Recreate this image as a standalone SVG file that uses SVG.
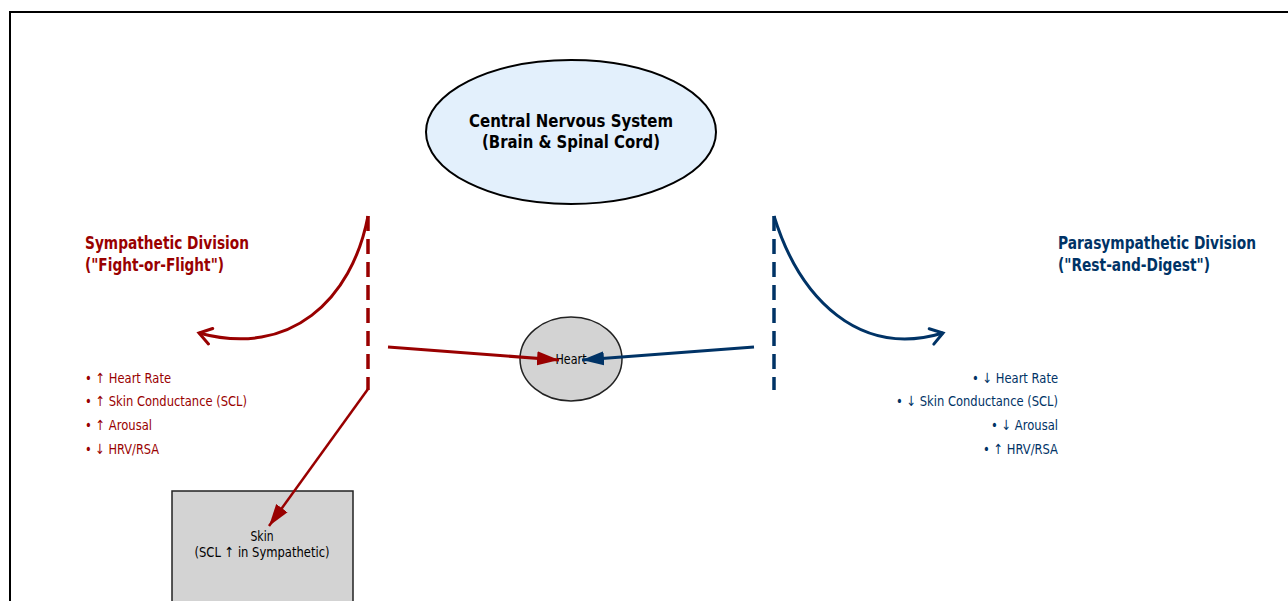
<svg xmlns="http://www.w3.org/2000/svg" width="1288" height="601" viewBox="0 0 1288 601">
<defs>
<style>
text{font-family:"DejaVu Sans","Liberation Sans",sans-serif;}
.title{font-size:17px;font-weight:bold;}
.cns{font-size:18px;font-weight:bold;fill:#000;}
.item{font-size:14px;}
.red{fill:#990000;}
.blue{fill:#003366;}
.lbl{font-size:14px;fill:#000;}
.dashR{stroke:#990000;stroke-width:3.5;stroke-dasharray:15,8;fill:none;}
.dashB{stroke:#003366;stroke-width:3.5;stroke-dasharray:15,8;fill:none;}
</style>
<marker id="openR" markerWidth="18" markerHeight="20" refX="14" refY="10" orient="auto" markerUnits="userSpaceOnUse"><path d="M2,2 L14,10 L2,18" fill="none" stroke="#990000" stroke-width="3" stroke-linecap="round"/></marker>
<marker id="openB" markerWidth="18" markerHeight="20" refX="14" refY="10" orient="auto" markerUnits="userSpaceOnUse"><path d="M2,2 L14,10 L2,18" fill="none" stroke="#003366" stroke-width="3" stroke-linecap="round"/></marker>
<marker id="fillR" markerWidth="24" markerHeight="16" refX="22" refY="8" orient="auto" markerUnits="userSpaceOnUse"><path d="M0,1 L22,8 L0,15 Z" fill="#990000"/></marker>
<marker id="fillB" markerWidth="24" markerHeight="16" refX="22" refY="8" orient="auto" markerUnits="userSpaceOnUse"><path d="M0,1 L22,8 L0,15 Z" fill="#003366"/></marker>
</defs>
<rect x="0" y="0" width="1288" height="601" fill="#fff"/>
<path d="M10,601 L10,12 L1288,12" fill="none" stroke="#000" stroke-width="2"/>

<g id="cns">
<ellipse cx="571" cy="132" rx="145" ry="72" fill="#e3f0fc" stroke="#000" stroke-width="2"/>
<text class="cns" x="571" y="127" text-anchor="middle" textLength="204" lengthAdjust="spacingAndGlyphs">Central Nervous System</text>
<text class="cns" x="571" y="148" text-anchor="middle" textLength="178" lengthAdjust="spacingAndGlyphs">(Brain &amp; Spinal Cord)</text>
</g>

<g id="heart">
<ellipse cx="571" cy="359" rx="51" ry="42" fill="#d3d3d3" stroke="#222" stroke-width="1.5"/>
<text class="lbl" x="571" y="364" text-anchor="middle" textLength="31" lengthAdjust="spacingAndGlyphs">Heart</text>
</g>

<g id="skin">
<rect x="172" y="491" width="181" height="115" fill="#d3d3d3" stroke="#222" stroke-width="1.5"/>
<text class="lbl" x="262" y="541" text-anchor="middle" textLength="23" lengthAdjust="spacingAndGlyphs">Skin</text>
<text class="lbl" x="262" y="557" text-anchor="middle" textLength="135" lengthAdjust="spacingAndGlyphs">(SCL ↑ in Sympathetic)</text>
</g>

<g id="sympathetic">
<text class="title red" x="85" y="249" textLength="164" lengthAdjust="spacingAndGlyphs">Sympathetic Division</text>
<text class="title red" x="85" y="271" textLength="139" lengthAdjust="spacingAndGlyphs">("Fight-or-Flight")</text>
<text class="item red" x="85" y="383" textLength="86" lengthAdjust="spacingAndGlyphs">• ↑ Heart Rate</text>
<text class="item red" x="85" y="406" textLength="162" lengthAdjust="spacingAndGlyphs">• ↑ Skin Conductance (SCL)</text>
<text class="item red" x="85" y="430" textLength="67" lengthAdjust="spacingAndGlyphs">• ↑ Arousal</text>
<text class="item red" x="85" y="454" textLength="74" lengthAdjust="spacingAndGlyphs">• ↓ HRV/RSA</text>
</g>

<g id="parasympathetic">
<text class="title blue" x="1058" y="249" textLength="198" lengthAdjust="spacingAndGlyphs">Parasympathetic Division</text>
<text class="title blue" x="1058" y="271" textLength="152" lengthAdjust="spacingAndGlyphs">("Rest-and-Digest")</text>
<text class="item blue" x="1058" y="383" text-anchor="end" textLength="86" lengthAdjust="spacingAndGlyphs">• ↓ Heart Rate</text>
<text class="item blue" x="1058" y="406" text-anchor="end" textLength="162" lengthAdjust="spacingAndGlyphs">• ↓ Skin Conductance (SCL)</text>
<text class="item blue" x="1058" y="430" text-anchor="end" textLength="67" lengthAdjust="spacingAndGlyphs">• ↓ Arousal</text>
<text class="item blue" x="1058" y="454" text-anchor="end" textLength="75" lengthAdjust="spacingAndGlyphs">• ↑ HRV/RSA</text>
</g>

<g id="connectors">
<line class="dashR" x1="368" y1="216" x2="368" y2="390"/>
<line class="dashB" x1="774" y1="216" x2="774" y2="390"/>
<path d="M368,216 C352,300 290,358 199,333" fill="none" stroke="#990000" stroke-width="3" marker-end="url(#openR)"/>
<path d="M774,216 C800,300 860,358 943,333" fill="none" stroke="#003366" stroke-width="3" marker-end="url(#openB)"/>
<line x1="388" y1="347" x2="559" y2="360" stroke="#990000" stroke-width="3" marker-end="url(#fillR)"/>
<line x1="754" y1="347" x2="582" y2="360" stroke="#003366" stroke-width="3" marker-end="url(#fillB)"/>
<line x1="368" y1="389" x2="269" y2="526" stroke="#990000" stroke-width="2.5" marker-end="url(#fillR)"/>
</g>
</svg>
